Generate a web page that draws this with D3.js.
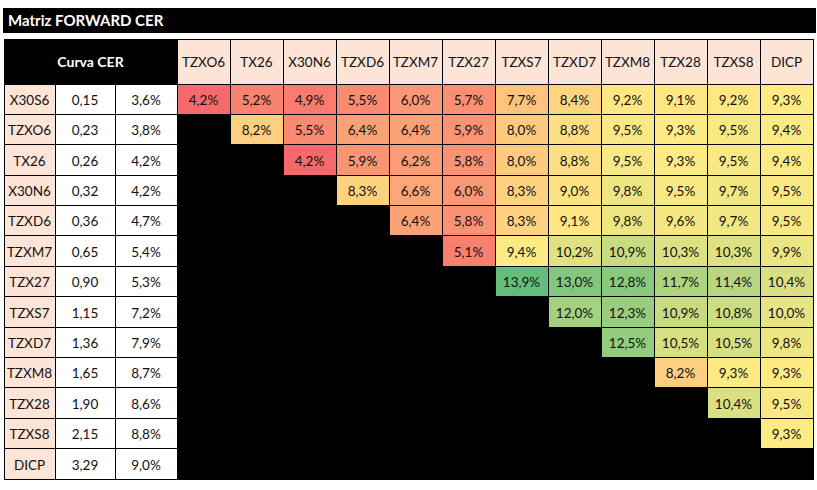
<!DOCTYPE html>
<html>
<head>
<meta charset="utf-8">
<script src="https://cdn.jsdelivr.net/npm/d3@7"></script>
<style>
  body { margin: 0; background: #fff; }
  text { font-family: Lato, "Open Sans", sans-serif; fill: #111; }
</style>
</head>
<body>
<svg id="chart" width="817" height="490"></svg>
<script>
// bonds on the CER curve, in order of duration
var tickers = ['X30S6', 'TZXO6', 'TX26', 'X30N6', 'TZXD6', 'TZXM7', 'TZX27', 'TZXS7', 'TZXD7', 'TZXM8', 'TZX28', 'TZXS8', 'DICP'];
var durations = [0.15, 0.23, 0.26, 0.32, 0.36, 0.65, 0.90, 1.15, 1.36, 1.65, 1.90, 2.15, 3.29];
var curveRates = [3.6, 3.8, 4.2, 4.2, 4.7, 5.4, 5.3, 7.2, 7.9, 8.7, 8.6, 8.8, 9.0];
var matrixCols = ['TZXO6', 'TX26', 'X30N6', 'TZXD6', 'TZXM7', 'TZX27', 'TZXS7', 'TZXD7', 'TZXM8', 'TZX28', 'TZXS8', 'DICP'];

// forward rates, row i starts at column i (upper triangle)
var forwardRows = [
    [4.2, 5.2, 4.9, 5.5, 6.0, 5.7, 7.7, 8.4, 9.2, 9.1, 9.2, 9.3],
    [8.2, 5.5, 6.4, 6.4, 5.9, 8.0, 8.8, 9.5, 9.3, 9.5, 9.4],
    [4.2, 5.9, 6.2, 5.8, 8.0, 8.8, 9.5, 9.3, 9.5, 9.4],
    [8.3, 6.6, 6.0, 8.3, 9.0, 9.8, 9.5, 9.7, 9.5],
    [6.4, 5.8, 8.3, 9.1, 9.8, 9.6, 9.7, 9.5],
    [5.1, 9.4, 10.2, 10.9, 10.3, 10.3, 9.9],
    [13.9, 13.0, 12.8, 11.7, 11.4, 10.4],
    [12.0, 12.3, 10.9, 10.8, 10.0],
    [12.5, 10.5, 10.5, 9.8],
    [8.2, 9.3, 9.3],
    [10.4, 9.5],
    [9.3],
    []
];

var svg = d3.select('#chart');
var peach = '#fce4d6';
var fontSize = '13.5px';
var locale = d3.formatLocale({decimal: ',', thousands: '.', grouping: [3], currency: ['$', '']});
var fmtDur = locale.format('.2f');
var fmtPct = function(v) { return locale.format('.1f')(v) + '%'; };

// layout
var tableTop = 39, headH = 45, tableBottom = 479;
var leftEdges = [4, 55, 115, 177];
var tableRight = 813;

var x = d3.scaleBand().domain(matrixCols).range([leftEdges[3], tableRight]);
var y = d3.scaleBand().domain(tickers).range([tableTop + headH, tableBottom]);

// build cell list
var cells = [];
tickers.forEach(function(t, i) {
    matrixCols.forEach(function(c, j) {
        var v = j >= i ? forwardRows[i][j - i] : null;
        cells.push({row: t, col: c, v: v});
    });
});
var vals = cells.filter(function(d) { return d.v != null; }).map(function(d) { return d.v; });
var sorted = vals.slice().sort(d3.ascending);
// excel style 3 colour scale: min / 50th percentile / max
var color = d3.scaleLinear()
    .domain([d3.min(vals), d3.quantile(sorted, 0.5), d3.max(vals)])
    .range(['#f8696b', '#ffeb84', '#63be7b'])
    .interpolate(d3.interpolateRgb);

// title bar
svg.append('rect')
    .attr('x', 3).attr('y', 8).attr('width', 813).attr('height', 25)
    .attr('fill', '#000');
svg.append('text')
    .attr('x', 8).attr('y', 21).attr('dy', '0.35em')
    .style('fill', '#fff')
    .style('font-size', '15px').style('font-weight', 'bold')
    .text('Matriz FORWARD CER');

// header: Curva CER
svg.append('rect')
    .attr('x', leftEdges[0]).attr('y', tableTop)
    .attr('width', leftEdges[3] - leftEdges[0]).attr('height', headH)
    .attr('fill', '#000').attr('stroke', '#000')
    .attr('shape-rendering', 'crispEdges');
svg.append('text')
    .attr('x', (leftEdges[0] + leftEdges[3]) / 2).attr('y', tableTop + headH / 2 + 1)
    .attr('dy', '0.35em').attr('text-anchor', 'middle')
    .style('fill', '#fff')
    .style('font-size', '14px').style('font-weight', 'bold')
    .text('Curva CER');

// matrix column headers
var heads = svg.selectAll('g.head')
    .data(matrixCols)
  .enter().append('g')
    .attr('class', 'head');
heads.append('rect')
    .attr('x', function(d) { return x(d); })
    .attr('y', tableTop)
    .attr('width', x.bandwidth()).attr('height', headH)
    .attr('fill', peach).attr('stroke', '#000')
    .attr('shape-rendering', 'crispEdges');
heads.append('text')
    .attr('x', function(d) { return x(d) + x.bandwidth() / 2; })
    .attr('y', tableTop + headH / 2 + 1)
    .attr('dy', '0.35em').attr('text-anchor', 'middle')
    .style('font-size', fontSize)
    .text(function(d) { return d; });

// left table: ticker / duration / rate
var leftCols = [
    {fill: peach, text: function(i) { return tickers[i]; }},
    {fill: '#fff', text: function(i) { return fmtDur(durations[i]); }},
    {fill: '#fff', text: function(i) { return fmtPct(curveRates[i]); }}
];
leftCols.forEach(function(lc, k) {
    var sel = svg.selectAll('g.left' + k)
        .data(tickers)
      .enter().append('g')
        .attr('class', 'left' + k);
    sel.append('rect')
        .attr('x', leftEdges[k])
        .attr('y', function(d) { return y(d); })
        .attr('width', leftEdges[k + 1] - leftEdges[k])
        .attr('height', y.bandwidth())
        .attr('fill', lc.fill).attr('stroke', '#000')
        .attr('shape-rendering', 'crispEdges');
    sel.append('text')
        .attr('x', (leftEdges[k] + leftEdges[k + 1]) / 2)
        .attr('y', function(d) { return y(d) + y.bandwidth() / 2 + 1; })
        .attr('dy', '0.35em').attr('text-anchor', 'middle')
        .style('font-size', fontSize)
        .text(function(d, i) { return lc.text(i); });
});

// matrix cells
var cellSel = svg.selectAll('g.cell')
    .data(cells)
  .enter().append('g')
    .attr('class', 'cell');
cellSel.append('rect')
    .attr('x', function(d) { return x(d.col); })
    .attr('y', function(d) { return y(d.row); })
    .attr('width', x.bandwidth()).attr('height', y.bandwidth())
    .attr('fill', function(d) { return d.v == null ? '#000' : color(d.v); })
    .attr('stroke', '#000')
    .attr('shape-rendering', 'crispEdges');
cellSel.filter(function(d) { return d.v != null; })
  .append('text')
    .attr('x', function(d) { return x(d.col) + x.bandwidth() / 2; })
    .attr('y', function(d) { return y(d.row) + y.bandwidth() / 2 + 1; })
    .attr('dy', '0.35em').attr('text-anchor', 'middle')
    .style('font-size', fontSize)
    .text(function(d) { return fmtPct(d.v); });
</script>
</body>
</html>
